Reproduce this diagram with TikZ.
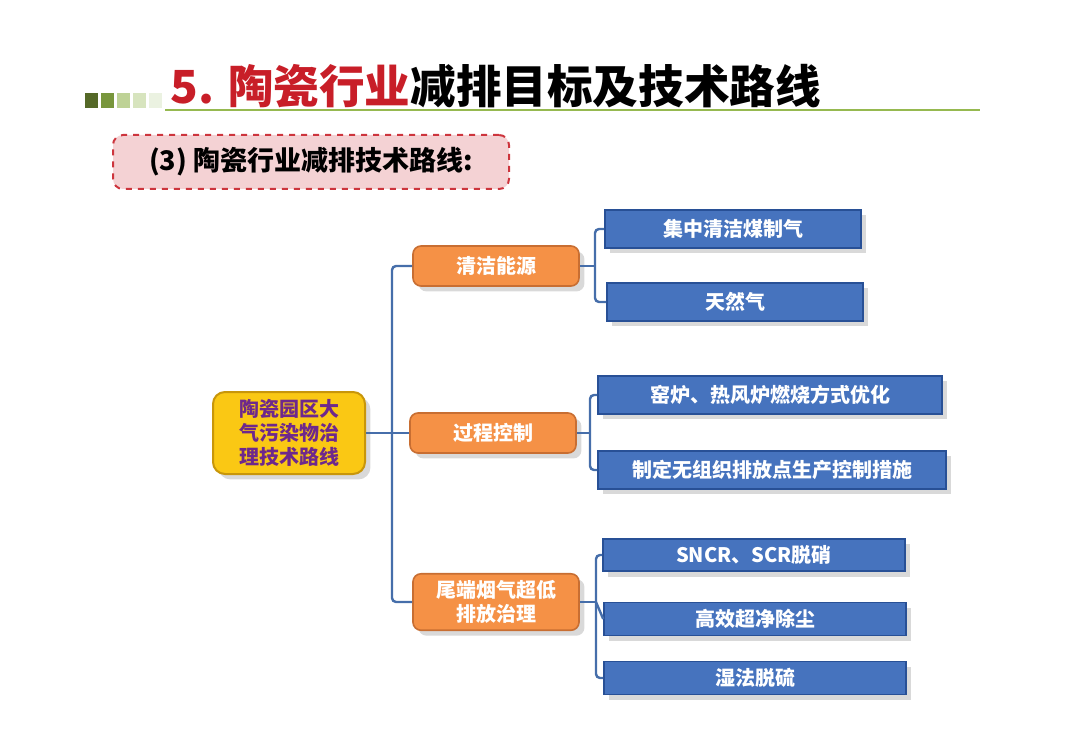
\documentclass[tikz,border=0pt]{standalone}
\usepackage{fontspec}
\setmainfont{Noto Sans CJK SC}
\usetikzlibrary{positioning,shadows}
\definecolor{rootfill}{RGB}{250,200,20}
\definecolor{rootborder}{RGB}{200,150,10}
\definecolor{rootink}{RGB}{110,40,140}
\definecolor{orangefill}{RGB}{245,145,70}
\definecolor{orangeborder}{RGB}{200,110,50}
\definecolor{bluefill}{RGB}{70,115,190}
\definecolor{blueborder}{RGB}{40,80,150}
\definecolor{linkblue}{RGB}{70,110,170}
\definecolor{titlered}{RGB}{200,30,40}
\definecolor{titlegreen}{RGB}{150,185,80}
\definecolor{sqa}{RGB}{85,105,40}
\definecolor{sqb}{RGB}{120,150,60}
\definecolor{sqc}{RGB}{190,210,150}
\definecolor{sqd}{RGB}{215,228,190}
\definecolor{sqe}{RGB}{235,242,225}
\tikzset{
    rootbox/.style={draw=rootborder, fill=rootfill, rounded corners=6pt, line width=1pt,
        minimum width=76pt, minimum height=41pt, align=center, font=\bfseries\fontsize{10}{12}\selectfont,
        text=rootink, drop shadow={opacity=0.3}},
    midbox/.style={draw=orangeborder, fill=orangefill, rounded corners=4pt, line width=0.8pt,
        minimum width=83pt, minimum height=20pt, align=center, font=\bfseries\fontsize{10}{12}\selectfont,
        text=white, drop shadow={opacity=0.3}},
    leafbox/.style={draw=blueborder, fill=bluefill, line width=0.8pt,
        minimum height=19pt, align=center, font=\bfseries\fontsize{10}{12}\selectfont,
        text=white, drop shadow={opacity=0.3}},
    link/.style={draw=linkblue, line width=1.2pt, rounded corners=2pt}
}
\begin{document}
\begin{tikzpicture}[x=0.5pt, y=-0.5pt]
    \useasboundingbox (0,0) rectangle (1080,748);
    % title
    \foreach \i/\c in {0/sqa,1/sqb,2/sqc,3/sqd,4/sqe}{
        \fill[\c] (85+\i*16,93) rectangle ++(13,15);
    }
    \draw[titlegreen, line width=1pt] (165,110) -- (980,110);
    \node[anchor=base west, inner sep=0pt, font=\bfseries\fontsize{22.8}{27}\selectfont] (title) at (170,104)
        {\textcolor{titlered}{5. 陶瓷行业}减排目标及技术路线};
    \node[draw=titlered!90, dashed, line width=1pt, fill=titlered!20, rounded corners=5pt,
        minimum width=198pt, minimum height=27pt, font=\bfseries\fontsize{13.5}{15}\selectfont]
        (sub) at (311,162) {(3) 陶瓷行业减排技术路线:};
    % nodes
    \node[rootbox] (root) at (289,433) {陶瓷园区大\\气污染物治\\理技术路线};
    \node[midbox] (clean) at (496,266) {清洁能源};
    \node[midbox] (proc) at (493,433) {过程控制};
    \node[midbox] (tail) at (496,602) {尾端烟气超低\\排放治理};
    \node[leafbox, minimum width=128pt] (coal) at (733,229) {集中清洁煤制气};
    \node[leafbox, minimum width=128pt] (gas) at (735,302) {天然气};
    \node[leafbox, minimum width=172pt] (kiln) at (770,395) {窑炉、热风炉燃烧方式优化};
    \node[leafbox, minimum width=174pt] (fug) at (772,470) {制定无组织排放点生产控制措施};
    \node[leafbox, minimum width=151pt, minimum height=15pt] (scr) at (754,555) {SNCR、SCR脱硝};
    \node[leafbox, minimum width=151pt, minimum height=16pt] (dust) at (755,619) {高效超净除尘};
    \node[leafbox, minimum width=151pt, minimum height=16pt] (sulf) at (755,678) {湿法脱硫};
    % braces
    \coordinate (b0) at (392,433);
    \draw[link] (root.east) -- (b0);
    \draw[link] (clean.west) -| (b0) |- (tail.west);
    \draw[link] (b0) -- (proc.west);
    \coordinate (b1) at (595,266);
    \draw[link] (clean.east) -- (b1);
    \draw[link] (coal.west) -| (b1) |- (gas.west);
    \coordinate (b2) at (590,433);
    \draw[link] (proc.east) -- (b2);
    \draw[link] (kiln.west) -| (b2) |- (fug.west);
    \coordinate (b3) at (596,602);
    \draw[link] (tail.east) -- (b3);
    \draw[link] (scr.west) -| (b3) |- (sulf.west);
    \draw[link] (b3) -- (dust.west);
\end{tikzpicture}
\end{document}
